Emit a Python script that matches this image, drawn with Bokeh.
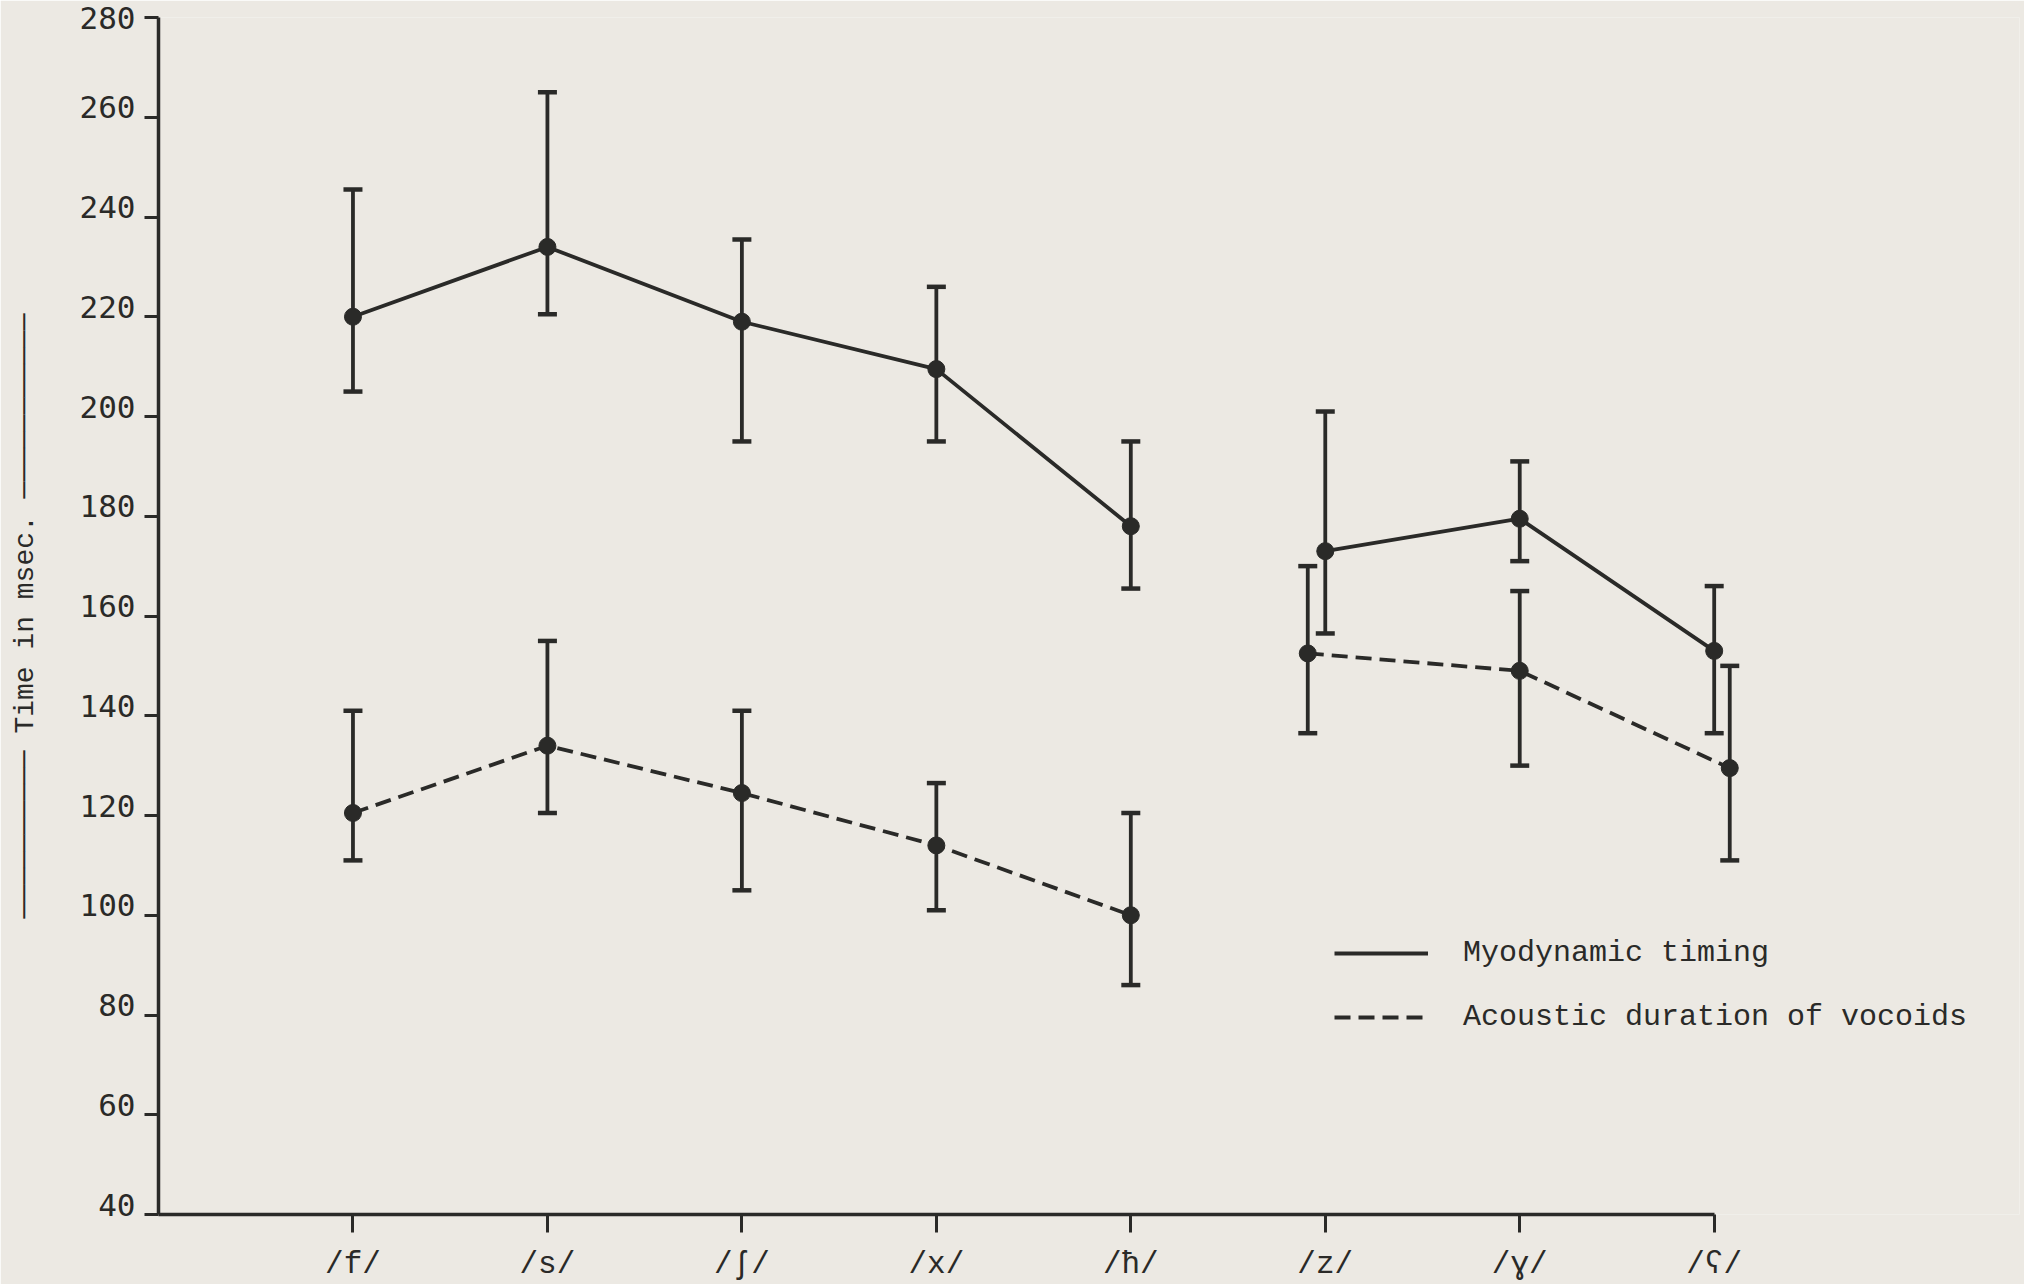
from bokeh.plotting import figure
from bokeh.models import (Range1d, FixedTicker, LinearAxis, Legend, LegendItem,
                          ColumnDataSource)
from bokeh.embed import file_html
from bokeh.resources import INLINE

# ---- data ----
categories = ["/f/", "/s/", "/ʃ/", "/x/", "/ħ/", "/z/", "/ɣ/", "/ʕ/"]
voicing = ["voiceless"] * 5 + ["voiced"] * 3

myo_mean = [220, 234, 219, 209.5, 178, 173, 179.5, 153]
myo_hi = [245.5, 265, 235.5, 226, 195, 201, 191, 166]
myo_lo = [205, 220.5, 195, 195, 165.5, 156.5, 171, 136.5]

ac_mean = [120.5, 134, 124.5, 114, 100, 152.5, 149, 129.5]
ac_hi = [141, 155, 141, 126.5, 120.5, 170, 165, 150]
ac_lo = [111, 120.5, 105, 101, 86, 136.5, 130, 111]

# small horizontal nudges of the acoustic bars (as drawn in the original)
ac_nudge = [0, 0, 0, 0, 0, -0.09, 0, 0.08]

y_ticks = list(range(40, 281, 20))

# ---- style ----
BG = "#ece9e3"
INK = "#2a2a28"
MONO = "Liberation Mono"
DIGITS = "DejaVu Sans Mono"

p = figure(width=2024, height=1284, output_backend="svg", toolbar_location=None,
           x_range=Range1d(0, 9.57), y_range=Range1d(40, 280),
           x_axis_location=None, y_axis_location=None,
           min_border_left=158, min_border_right=5, min_border_top=17,
           min_border_bottom=69,
           background_fill_color=BG, border_fill_color=BG,
           outline_line_color=None)
p.xgrid.visible = False
p.ygrid.visible = False

# x axis
xaxis = LinearAxis(ticker=FixedTicker(ticks=list(range(1, len(categories) + 1))),
                   major_label_overrides={i + 1: c for i, c in enumerate(categories)},
                   bounds=(0, len(categories)))
xaxis.axis_line_width = 3.5
xaxis.axis_line_color = INK
xaxis.major_tick_line_width = 3
xaxis.major_tick_line_color = INK
xaxis.major_tick_out = 18
xaxis.major_tick_in = 0
xaxis.minor_tick_out = 0
xaxis.minor_tick_in = 0
xaxis.major_label_standoff = 14
xaxis.major_label_text_font = MONO
xaxis.major_label_text_font_size = "31px"
xaxis.major_label_text_color = INK
p.add_layout(xaxis, "below")

# y axis: line + ticks (labels drawn by the axis below, just above each tick)
ytick_axis = LinearAxis(ticker=FixedTicker(ticks=y_ticks),
                        major_label_overrides={t: "" for t in y_ticks})
ytick_axis.axis_line_width = 3.5
ytick_axis.axis_line_color = INK
ytick_axis.major_tick_line_width = 3
ytick_axis.major_tick_line_color = INK
ytick_axis.major_tick_out = 14
ytick_axis.major_tick_in = 0
ytick_axis.minor_tick_out = 0
ytick_axis.minor_tick_in = 0
ytick_axis.major_label_standoff = 0
p.add_layout(ytick_axis, "left")

# y axis: labels sitting just above their ticks (typewritten style)
p.extra_y_ranges = {"lab": Range1d(38, 278)}
lab_ticks = y_ticks[:-1] + [278]
ylab_axis = LinearAxis(y_range_name="lab", ticker=FixedTicker(ticks=lab_ticks),
                       major_label_overrides={278: str(y_ticks[-1])})
ylab_axis.axis_line_color = None
ylab_axis.major_tick_line_color = None
ylab_axis.major_tick_out = 0
ylab_axis.major_tick_in = 0
ylab_axis.minor_tick_out = 0
ylab_axis.minor_tick_in = 0
ylab_axis.major_label_standoff = 9
ylab_axis.major_label_text_font = DIGITS
ylab_axis.major_label_text_font_size = "31px"
ylab_axis.major_label_text_color = INK
ylab_axis.axis_label = "─" * 10 + " Time in msec. " + "─" * 11
ylab_axis.axis_label_text_font = MONO
ylab_axis.axis_label_text_font_style = "normal"
ylab_axis.axis_label_text_font_size = "28px"
ylab_axis.axis_label_text_color = INK
ylab_axis.axis_label_standoff = 36
p.add_layout(ylab_axis, "left")

# ---- data sources ----
xs = list(range(1, len(categories) + 1))
ac_xs = [x + n for x, n in zip(xs, ac_nudge)]


def src(xv, mean, lo, hi, group=None):
    idx = [i for i in range(len(xv)) if group is None or voicing[i] == group]
    return ColumnDataSource(dict(x=[xv[i] for i in idx], mean=[mean[i] for i in idx],
                                 lo=[lo[i] for i in idx], hi=[hi[i] for i in idx]))


line_w = 3.8
legend_renderers = {}
for name, xv, mean, lo, hi, dash in [
        ("myo", xs, myo_mean, myo_lo, myo_hi, "solid"),
        ("ac", ac_xs, ac_mean, ac_lo, ac_hi, "16 8")]:
    for g in ["voiceless", "voiced"]:
        s = src(xv, mean, lo, hi, g)
        r = p.line("x", "mean", source=s, line_color=INK, line_width=line_w,
                   line_dash=dash)
        if g == "voiceless":
            legend_renderers[name] = r
    s = src(xv, mean, lo, hi)
    p.segment(x0="x", y0="lo", x1="x", y1="hi", source=s, line_color=INK,
              line_width=3.8)
    p.scatter("x", "hi", source=s, marker="dash", size=19, line_width=4.5,
              line_color=INK)
    p.scatter("x", "lo", source=s, marker="dash", size=19, line_width=4.5,
              line_color=INK)
    p.scatter("x", "mean", source=s, marker="circle", size=17, fill_color=INK,
              line_color=INK)

legend = Legend(items=[
    LegendItem(label="Myodynamic timing", renderers=[legend_renderers["myo"]]),
    LegendItem(label="Acoustic duration of vocoids", renderers=[legend_renderers["ac"]]),
], location=(1176, 180))
legend.background_fill_alpha = 0
legend.border_line_color = None
legend.padding = 0
legend.margin = 0
legend.spacing = 30
legend.glyph_width = 94
legend.glyph_height = 30
legend.label_height = 30
legend.label_standoff = 35
legend.label_text_font = MONO
legend.label_text_font_size = "30px"
legend.label_text_color = INK
p.add_layout(legend)

open("out.html", "w").write(file_html(p, INLINE))
